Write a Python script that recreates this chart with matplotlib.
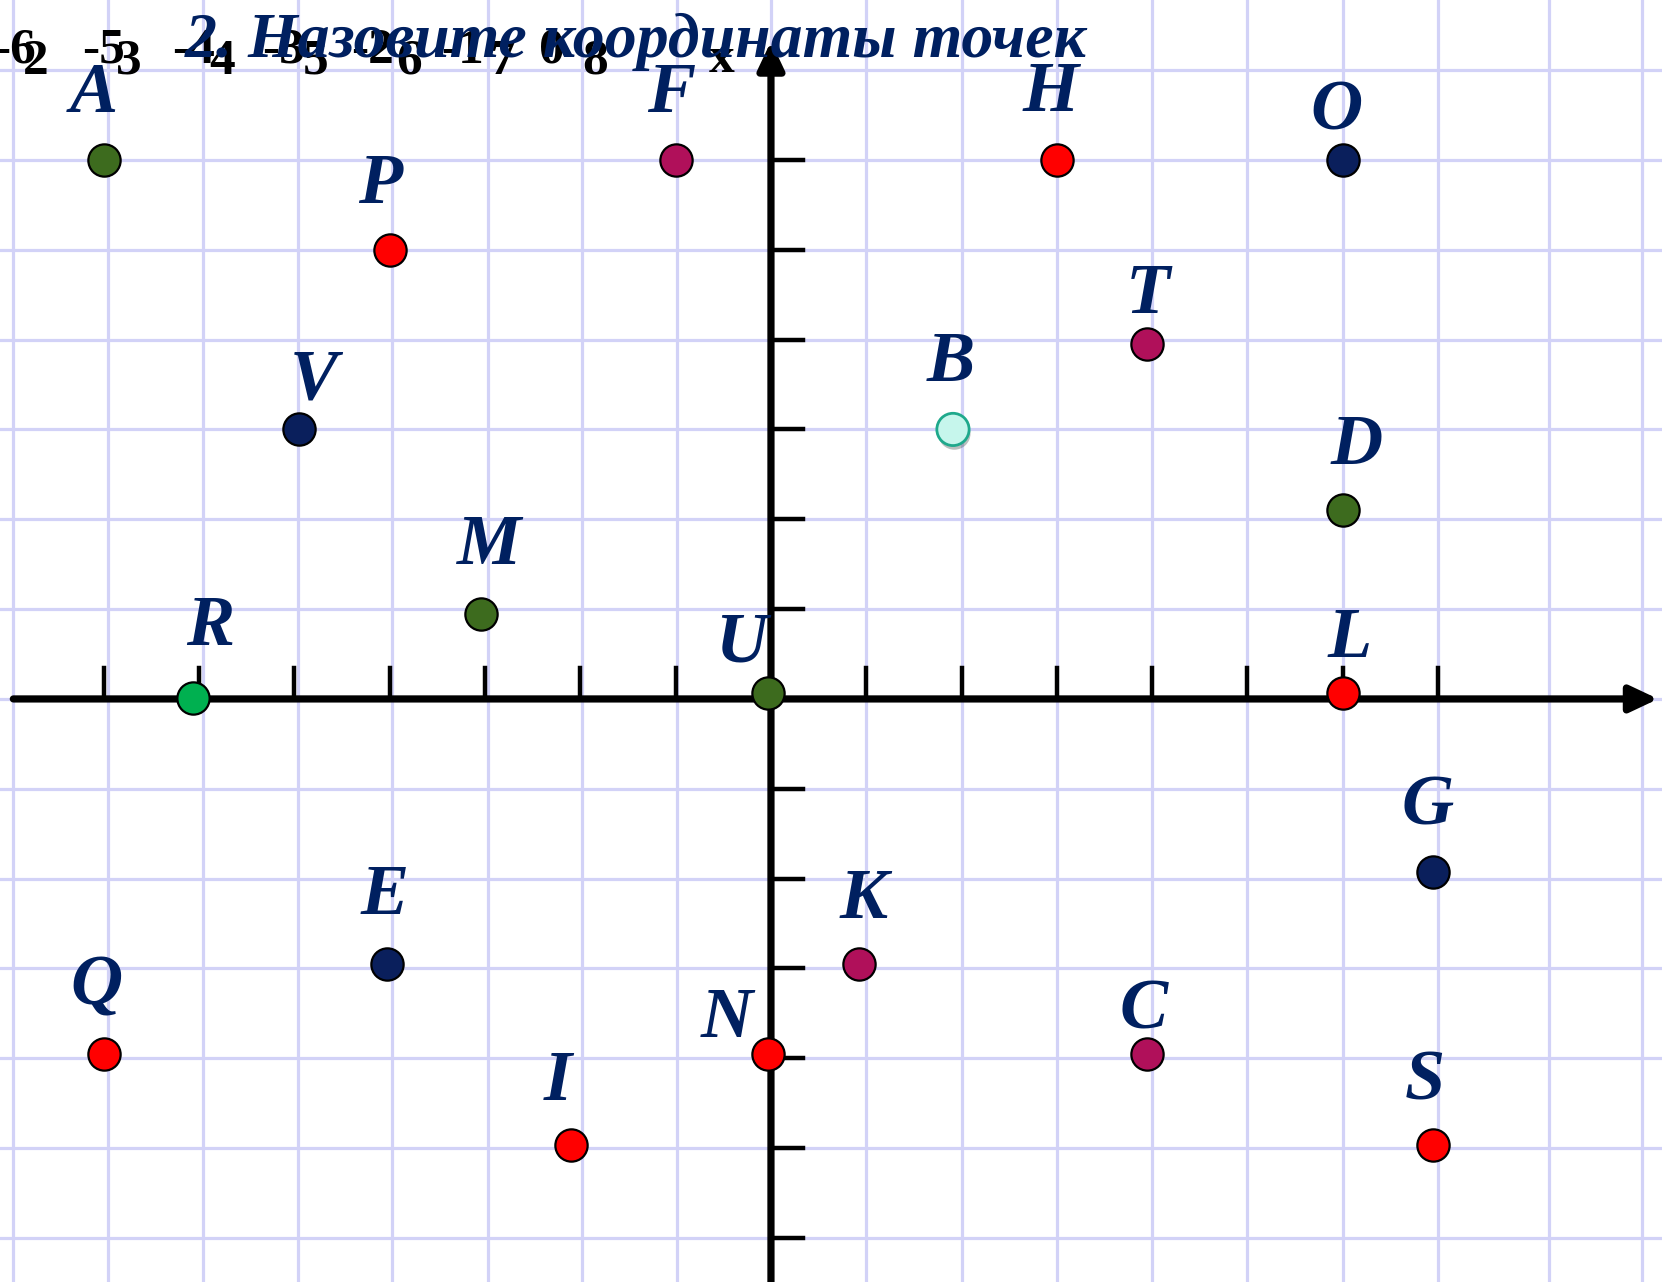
import matplotlib
matplotlib.use("Agg")
import matplotlib.pyplot as plt
import matplotlib.patheffects as pe

# --- data ---
names = ["A", "F", "H", "O", "P", "T", "V", "B", "D", "M", "R",
         "U", "L", "G", "E", "K", "Q", "N", "C", "I", "S"]
xs = [-7.0, -1.0, 3.0, 6.0, -4.0, 3.95, -4.95, 1.91, 6.0, -3.04, -6.07,
      -0.03, 6.0, 6.95, -4.03, 0.92, -7.0, -0.03, 3.95, -2.1, 6.95]
ys = [6.0, 6.0, 6.0, 6.0, 5.0, 3.95, 3.0, 3.0, 2.1, 0.94, 0.01,
      0.07, 0.07, -1.93, -2.95, -2.95, -3.95, -3.95, -3.95, -4.96, -4.96]
groups = ["green", "maroon", "red", "navy", "red", "maroon", "navy", "cyan",
          "green", "green", "lime", "green", "red", "navy", "navy", "maroon",
          "red", "red", "maroon", "red", "red"]

title = "2. Назовите координаты точек"
ghost_top = ["-6", "-5", "-4", "-3", "-2", "-1", "0"]
ghost_bottom = ["2", "3", "4", "5", "6", "7", "8"]

x_ticks = [-7, -6, -5, -4, -3, -2, -1, 1, 2, 3, 4, 5, 6, 7]
y_ticks = [-6, -5, -4, -3, -2, -1, 1, 2, 3, 4, 5, 6]
grid_x = [-7.95, -6.96, -5.96, -4.96, -3.98, -2.97, -1.98, -0.99, 0, 1, 2, 3,
          4, 5, 6, 7, 8.16, 9.14]
grid_y = [7, 6, 5, 4, 3, 2, 1, 0, -1, -2, -3, -4, -5, -6]

# --- styles ---
palette = {"green": "#3d6b1e", "maroon": "#b0105a", "red": "#ff0000",
           "navy": "#0a1f5c", "cyan": "#c6f6ec", "lime": "#00b050"}
NAVY = "#002060"
GRID = "#d2d2f7"
# label offsets in pixels (dx, dy) from the dot centre to the label baseline
label_off = {"A": (-10, 48), "F": (-4, 48), "H": (-6, 49), "O": (-6, 30),
             "P": (-10, 47), "T": (0, 31), "V": (15, 31), "B": (-2, 48),
             "D": (14, 46), "M": (8, 50), "R": (18, 53), "U": (-27, 31),
             "L": (7, 36), "G": (-6, 48), "E": (-2, 50), "K": (5, 46),
             "Q": (-7, 49), "N": (-41, 17), "C": (-4, 25), "I": (-13, 45),
             "S": (-9, 45)}

fig = plt.figure(figsize=(16.62, 12.82), dpi=100)
ax = fig.add_axes([0, 0, 1, 1])
ax.set_xlim(-8.09, 9.35)
ax.set_ylim(-6.49, 7.78)
ax.axis("off")

# paper grid
for gx in grid_x:
    ax.axvline(gx, color=GRID, lw=2.3, zorder=0)
for gy in grid_y:
    ax.axhline(gy, color=GRID, lw=2.3, zorder=0)

# ghost tick labels behind the title
ghost = dict(ha="center", va="baseline", fontsize=37, weight="bold",
             family="Liberation Serif", color="black", zorder=1)
for i, t in enumerate(ghost_top):
    ax.text(-7.94 + i * 0.94, 7.08, t, **ghost)
for i, t in enumerate(ghost_bottom):
    ax.text(-7.72 + i * 0.98, 6.96, t, **ghost)
ax.text(-0.52, 6.98, "x", **ghost)

# axes with arrows
arrow = dict(arrowstyle="-|>,head_length=0.7,head_width=0.33", lw=5.2,
             color="black", shrinkA=0, shrinkB=0, mutation_scale=24)
ax.annotate("", xy=(9.31, 0), xytext=(-7.95, 0), arrowprops=arrow, zorder=3)
ax.annotate("", xy=(0, 7.32), xytext=(0, -6.6), arrowprops=arrow, zorder=3)
for t in x_ticks:
    ax.plot([t, t], [0, 0.35], color="black", lw=3.2, zorder=3)
for t in y_ticks:
    ax.plot([0, 0.34], [t, t], color="black", lw=3.2, zorder=3)

# points
for n, x, y, g in zip(names, xs, ys, groups):
    if g == "cyan":
        ax.scatter([x], [y], s=540, color=palette[g], edgecolor="#1fa98c",
                   linewidth=2, zorder=5,
                   path_effects=[pe.SimplePatchShadow(offset=(1, -3), alpha=0.35),
                                 pe.Normal()])
    else:
        ax.scatter([x], [y], s=540, color=palette[g], edgecolor="black",
                   linewidth=1.6, zorder=5)
    dx, dy = label_off[n]
    ax.annotate(n, (x, y), xytext=(dx, dy), textcoords="offset pixels",
                ha="center", va="baseline", fontsize=52, color=NAVY,
                family="Liberation Serif", weight="bold", style="italic",
                zorder=6)

fig.text(185 / 1662, 1 - 57 / 1282, title, ha="left", va="baseline",
         fontsize=46, color=NAVY, family="Liberation Serif", weight="bold",
         style="italic", zorder=10)

fig.savefig("out.png", dpi=100)
